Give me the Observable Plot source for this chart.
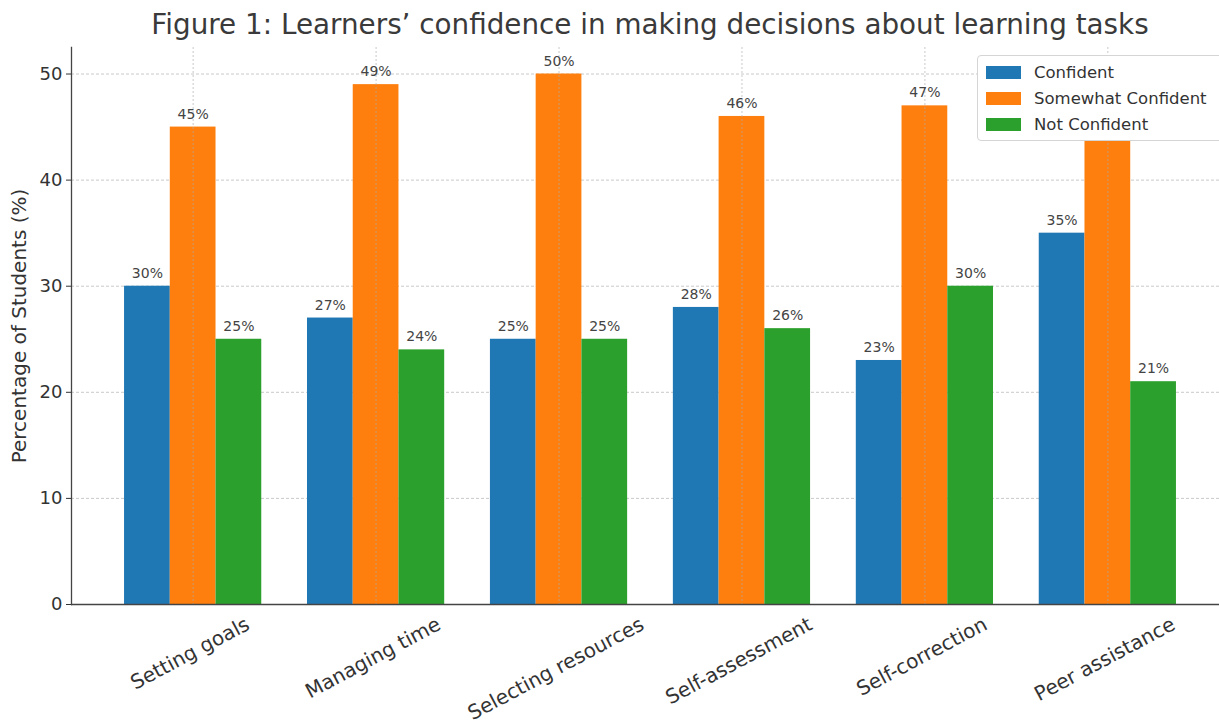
<!DOCTYPE html>
<html>
<head>
<meta charset="utf-8">
<script src="https://cdn.jsdelivr.net/npm/d3@7"></script>
<script src="https://cdn.jsdelivr.net/npm/@observablehq/plot@0.6"></script>
<style>
  html, body { margin: 0; padding: 0; background: #fff; overflow: hidden; }
  #wrap { position: relative; width: 1219px; height: 727px; overflow: hidden; font-family: "DejaVu Sans", sans-serif; }
  #title { position: absolute; left: 71px; width: 1158px; top: 8px; text-align: center; font-size: 27.8px; color: #3a3a3a; white-space: nowrap; }
  #legend { position: absolute; left: 977px; top: 55px; width: 260px; height: 86px; background: #fff; border: 1px solid #d5d5d5; border-radius: 4px; box-sizing: border-box; }
  .item { position: absolute; left: 8px; height: 20px; font-size: 16.5px; color: #333; display: flex; align-items: center; }
  .sw { width: 35px; height: 13px; margin-right: 13px; }
  #chart { position: absolute; left: 0; top: 0; }
  #chart svg { max-width: none !important; }
</style>
</head>
<body>
<div id="wrap">
  <div id="chart"></div>
  <div id="title"></div>
  <div id="legend"></div>
</div>
<script>
const titleText = "Figure 1: Learners’ confidence in making decisions about learning tasks";
const categories = ["Setting goals", "Managing time", "Selecting resources", "Self-assessment", "Self-correction", "Peer assistance"];
const series = ["Confident", "Somewhat Confident", "Not Confident"];
const confident = [30, 27, 25, 28, 23, 35];
const somewhatConfident = [45, 49, 50, 46, 47, 44];
const notConfident = [25, 24, 25, 26, 30, 21];
const colors = ["#1f77b4", "#ff7f0e", "#2ca02c"];
const yTicks = [0, 10, 20, 30, 40, 50];
const yLabel = "Percentage of Students (%)";

const seriesValues = [confident, somewhatConfident, notConfident];
const key = (c, s) => c + "|" + s;
const data = [];
categories.forEach((c, i) => {
  series.forEach((s, j) => data.push({category: c, series: s, value: seriesValues[j][i], key: key(c, s)}));
});
// band domain: each group of three bars followed by an empty spacer band
const xDomain = [];
categories.forEach((c, i) => {
  series.forEach(s => xDomain.push(key(c, s)));
  if (i < categories.length - 1) xDomain.push("gap" + i);
});
const midKey = c => key(c, series[1]);

const font = "DejaVu Sans";
const labelSize = 20;
const labelAngle = 28;
// top-align rotated tick labels (like matplotlib): offset depends on label length
const ctx = document.createElement("canvas").getContext("2d");
ctx.font = `${labelSize}px "${font}"`;
const labelDy = c => 24 + ctx.measureText(c).width * Math.sin(labelAngle * Math.PI / 180) / 2;

const chart = Plot.plot({
  width: 1230,
  height: 727,
  marginTop: 47,
  marginBottom: 123,
  marginLeft: 71,
  marginRight: 1,
  style: {fontFamily: font, background: "transparent", maxWidth: "none"},
  x: {domain: xDomain, paddingInner: 0, paddingOuter: 1.16, round: false, axis: null},
  y: {domain: [0, 52.5], axis: null},
  color: {domain: series, range: colors},
  marks: [
    Plot.gridY(yTicks.filter(d => d > 0), {stroke: "#bbb", strokeOpacity: 1, strokeWidth: 0.8, strokeDasharray: "3,2"}),
    Plot.barY(data, {x: "key", y: "value", fill: "series"}),
    Plot.ruleX(categories, {x: midKey, stroke: "#aaa", strokeOpacity: 0.8, strokeWidth: 0.8, strokeDasharray: "2,2"}),
    Plot.text(data, {x: "key", y: "value", text: d => d.value + "%", dy: -13, fontSize: 14, fill: "#444", fontFamily: font}),
    ...categories.map(c => Plot.text([c], {x: midKey, text: d => d, frameAnchor: "bottom", rotate: -labelAngle, dy: labelDy(c), fontSize: labelSize, fill: "#333", fontFamily: font})),
    Plot.axisY({ticks: yTicks, tickSize: 5, tickPadding: 4, fontSize: 18, label: null, color: "#333"}),
    Plot.text([yLabel], {frameAnchor: "left", textAnchor: "middle", rotate: -90, dx: -52, fontSize: 20, fill: "#333", fontFamily: font}),
    Plot.ruleY([0], {stroke: "#444", strokeWidth: 1.3}),
    Plot.frame({anchor: "left", stroke: "#444", strokeWidth: 1.3})
  ]
});
document.getElementById("chart").appendChild(chart);
document.getElementById("title").textContent = titleText;

const legend = document.getElementById("legend");
series.forEach((s, i) => {
  const item = document.createElement("div");
  item.className = "item";
  item.style.top = (6 + i * 26) + "px";
  const sw = document.createElement("div");
  sw.className = "sw";
  sw.style.background = colors[i];
  const lab = document.createElement("span");
  lab.textContent = s;
  item.appendChild(sw);
  item.appendChild(lab);
  legend.appendChild(item);
});
</script>
</body>
</html>
